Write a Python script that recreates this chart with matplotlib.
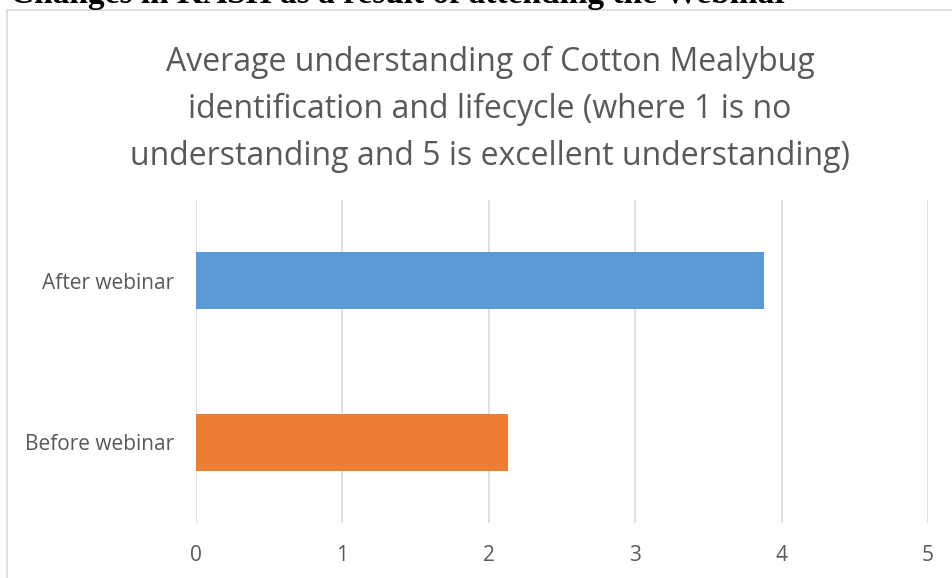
import matplotlib.pyplot as plt
from matplotlib.patches import Rectangle

# data
categories = ['Before webinar', 'After webinar']
values = [2.13, 3.88]
colors = ['#ED7D31', '#5B9BD5']
x_ticks = [0, 1, 2, 3, 4, 5]

page_heading = 'Changes in KASH as a result of attending the Webinar'
title = ('Average understanding of Cotton Mealybug\n'
         'identification and lifecycle (where 1 is no\n'
         'understanding and 5 is excellent understanding)')

fig = plt.figure(figsize=(9.52, 5.78), dpi=100)

# chart frame (light grey border, cut off at right/bottom)
fig.patches.append(Rectangle((7 / 952, -0.1), 1.1, 1 - 10 / 578 + 0.1,
                             transform=fig.transFigure, fill=False,
                             edgecolor='#D9D9D9', linewidth=1.2))

# clipped heading from the page above the chart
fig.text(10 / 952, 1 - 3 / 578, page_heading, fontsize=24, fontweight='bold',
         family='Liberation Serif', ha='left', va='baseline', color='black')

ax = fig.add_axes([196 / 952, 55 / 578, 732 / 952, 323 / 578])
ax.barh(range(len(categories)), values, height=0.35, color=colors, zorder=3)

ax.set_xlim(0, 5)
ax.set_ylim(-0.5, 1.5)
ax.set_xticks(x_ticks)
ax.set_yticks(range(len(categories)))
ax.set_yticklabels(categories)
ax.grid(axis='x', color='#D9D9D9', linewidth=1.2, zorder=0)
for s in ax.spines.values():
    s.set_visible(False)
ax.tick_params(length=0, labelsize=15, labelcolor='#595959')
ax.tick_params(axis='x', pad=16)
ax.tick_params(axis='y', pad=16)
for lbl in ax.get_xticklabels() + ax.get_yticklabels():
    lbl.set_family('Open Sans')

fig.text(490 / 952, 1 - 109 / 578, title, ha='center', va='center',
         fontsize=23, color='#595959', family='Open Sans', linespacing=1.55)

fig.savefig('out.png', dpi=100)
